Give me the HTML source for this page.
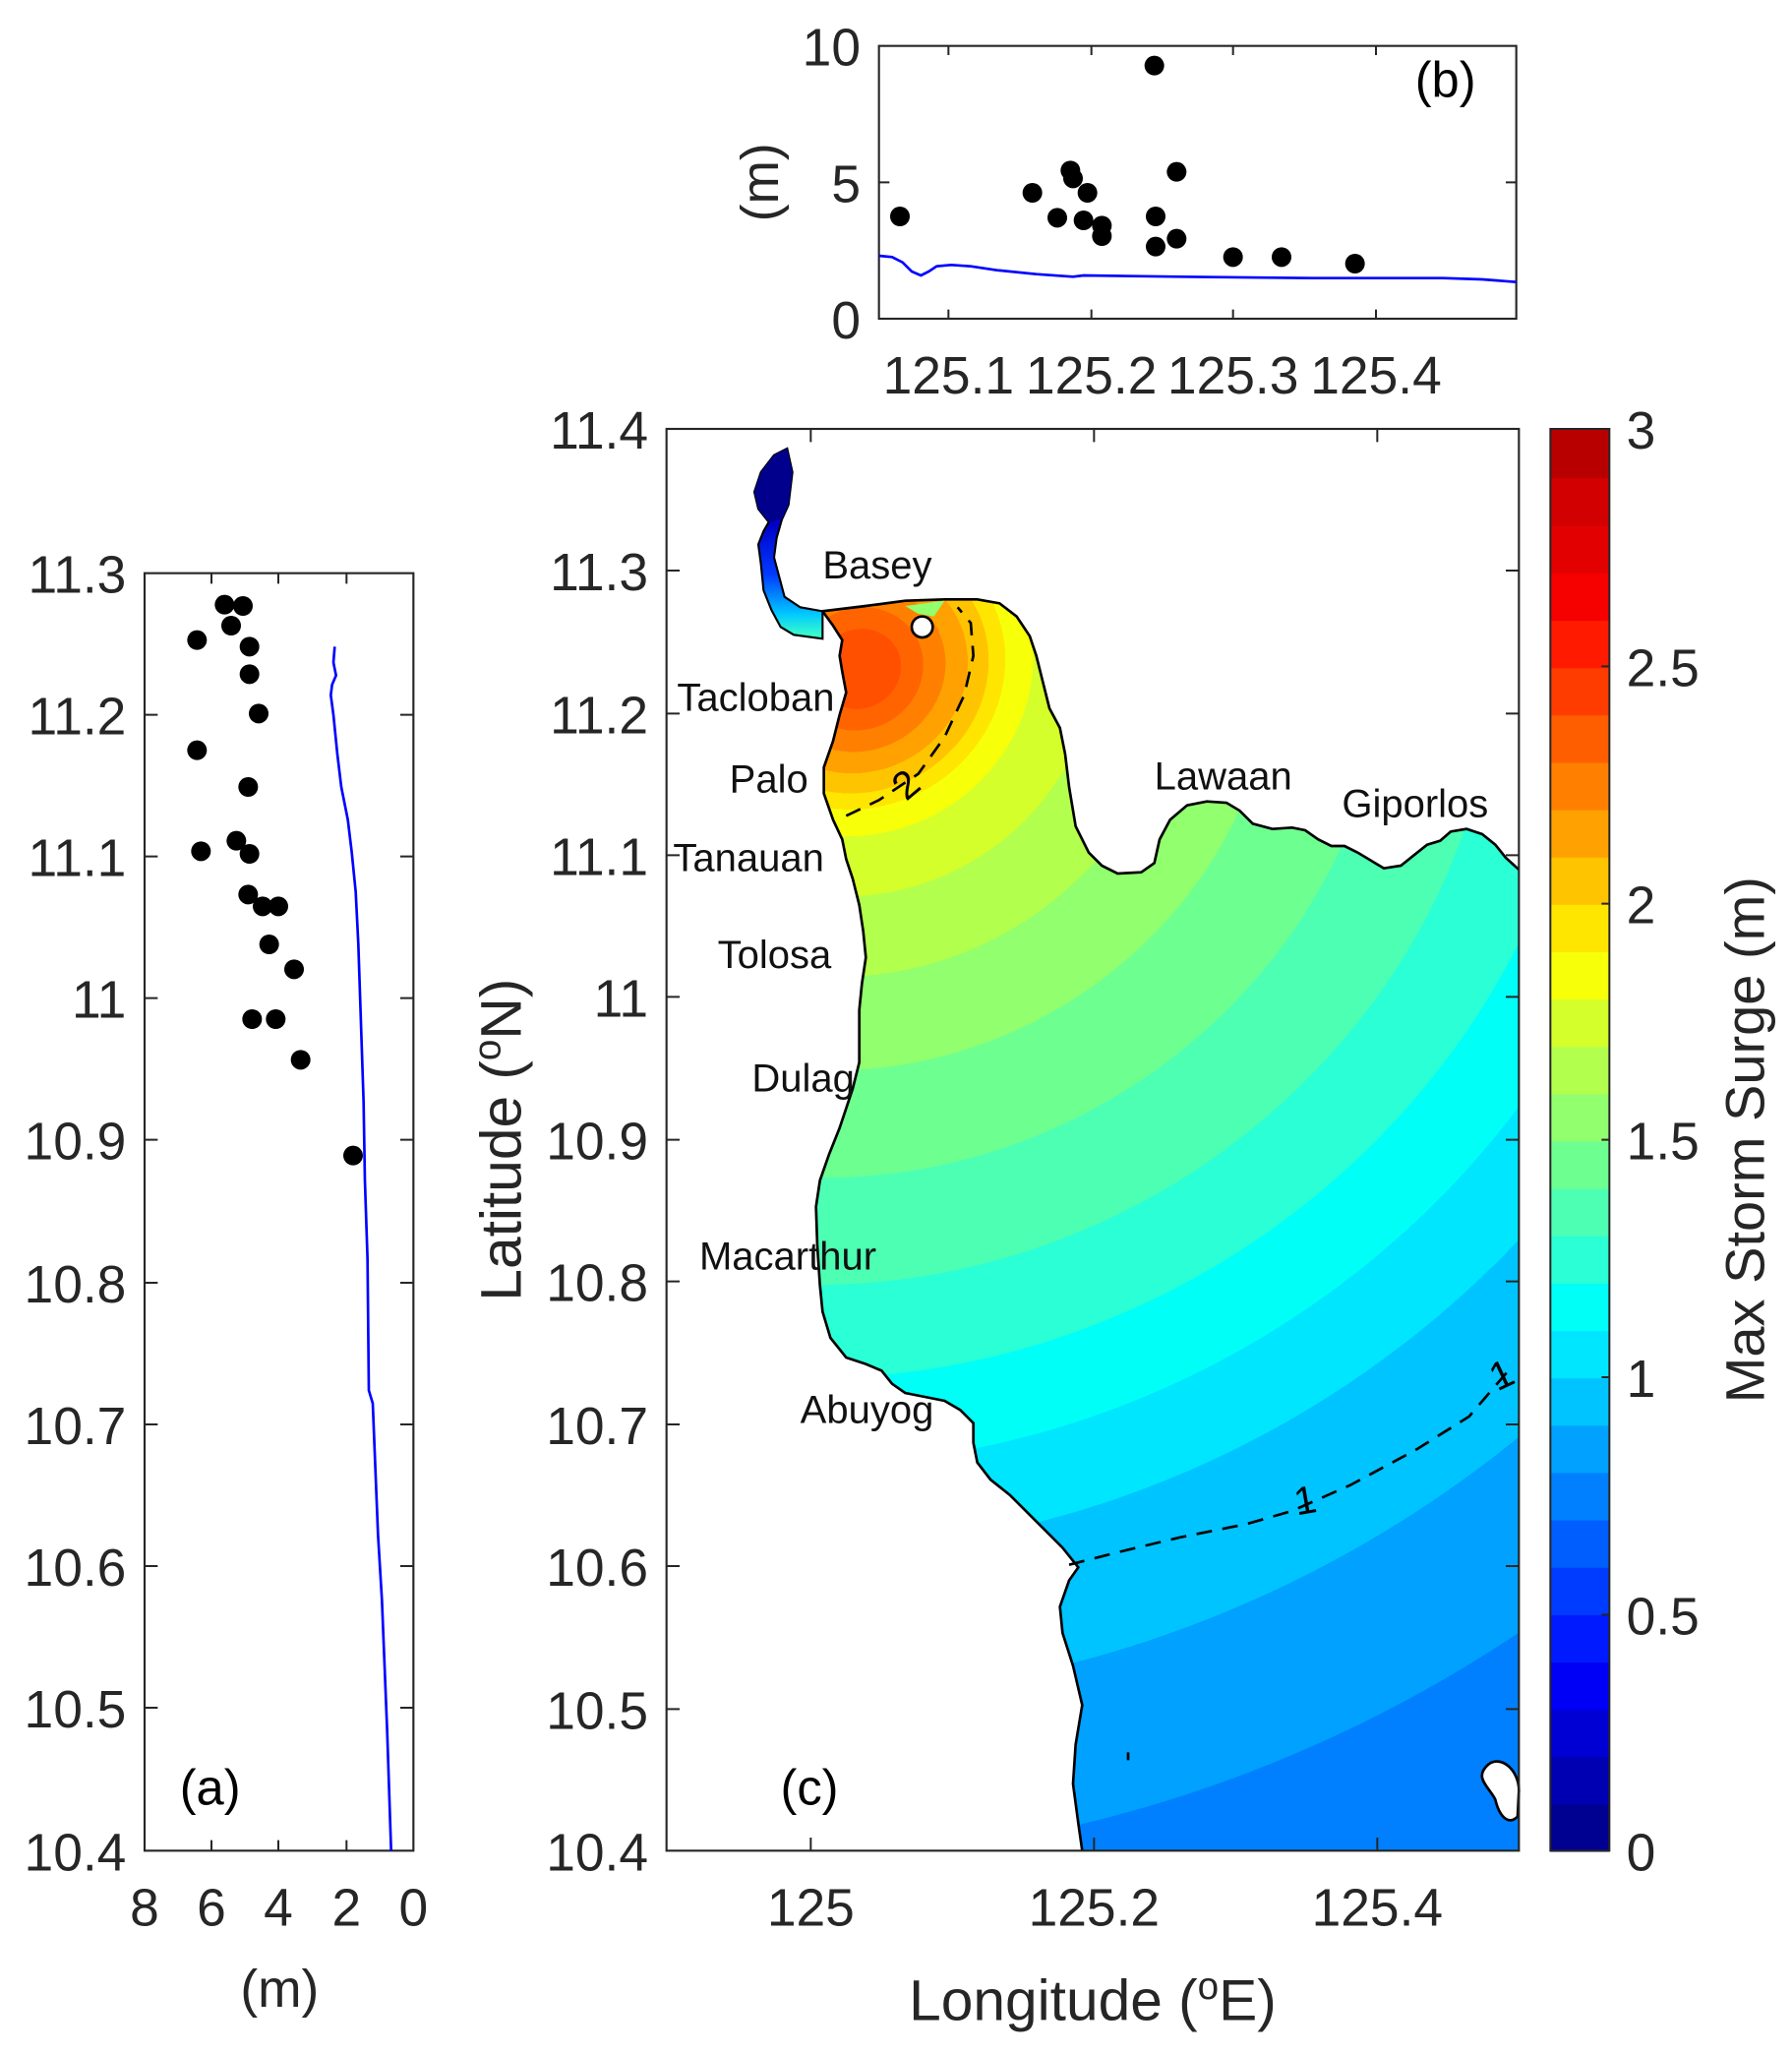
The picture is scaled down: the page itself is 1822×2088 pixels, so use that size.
<!DOCTYPE html>
<html><head><meta charset="utf-8"><style>
html,body{margin:0;padding:0;background:#fff}
svg{display:block}
text{font-family:"Liberation Sans",Arial,sans-serif;fill:#262626}
</style></head><body>
<svg width="1822" height="2088" viewBox="0 0 1366 1566" xmlns="http://www.w3.org/2000/svg">
<defs>
<radialGradient id="rg" gradientUnits="userSpaceOnUse" cx="655" cy="510" r="1000" gradientTransform="translate(655 510) rotate(-30) scale(1.08 1) translate(-655 -510)">
<stop offset="0" stop-color="rgb(255,80,0)"/><stop offset="0.03" stop-color="rgb(255,80,0)"/>
<stop offset="0.03" stop-color="rgb(255,100,0)"/><stop offset="0.046" stop-color="rgb(255,100,0)"/>
<stop offset="0.046" stop-color="rgb(255,128,0)"/><stop offset="0.062" stop-color="rgb(255,128,0)"/>
<stop offset="0.062" stop-color="rgb(255,161,0)"/><stop offset="0.078" stop-color="rgb(255,161,0)"/>
<stop offset="0.078" stop-color="rgb(255,196,0)"/><stop offset="0.093" stop-color="rgb(255,196,0)"/>
<stop offset="0.093" stop-color="rgb(255,230,0)"/><stop offset="0.105" stop-color="rgb(255,230,0)"/>
<stop offset="0.105" stop-color="rgb(247,255,9)"/><stop offset="0.125" stop-color="rgb(247,255,9)"/>
<stop offset="0.125" stop-color="rgb(213,255,43)"/><stop offset="0.17" stop-color="rgb(213,255,43)"/>
<stop offset="0.17" stop-color="rgb(179,255,77)"/><stop offset="0.23" stop-color="rgb(179,255,77)"/>
<stop offset="0.23" stop-color="rgb(145,255,110)"/><stop offset="0.30" stop-color="rgb(145,255,110)"/>
<stop offset="0.30" stop-color="rgb(110,255,145)"/><stop offset="0.38" stop-color="rgb(110,255,145)"/>
<stop offset="0.38" stop-color="rgb(77,255,179)"/><stop offset="0.46" stop-color="rgb(77,255,179)"/>
<stop offset="0.46" stop-color="rgb(43,255,213)"/><stop offset="0.53" stop-color="rgb(43,255,213)"/>
<stop offset="0.53" stop-color="rgb(0,255,247)"/><stop offset="0.595" stop-color="rgb(0,255,247)"/>
<stop offset="0.595" stop-color="rgb(0,230,255)"/><stop offset="0.66" stop-color="rgb(0,230,255)"/>
<stop offset="0.66" stop-color="rgb(0,196,255)"/><stop offset="0.77" stop-color="rgb(0,196,255)"/>
<stop offset="0.77" stop-color="rgb(0,161,255)"/><stop offset="0.89" stop-color="rgb(0,161,255)"/>
<stop offset="0.89" stop-color="rgb(0,128,255)"/><stop offset="1" stop-color="rgb(0,128,255)"/>
</radialGradient>
<linearGradient id="ch" gradientUnits="userSpaceOnUse" x1="0" y1="400" x2="0" y2="485">
<stop offset="0" stop-color="rgb(0,0,200)"/><stop offset="0.45" stop-color="rgb(0,60,255)"/>
<stop offset="0.8" stop-color="rgb(0,200,255)"/><stop offset="1" stop-color="rgb(60,255,200)"/>
</linearGradient>
</defs>

<path d="M825,1411 L822,1390 818,1360 820,1330 825,1300 818,1270 810,1245 808,1225 815,1205 822,1195 810,1180 795,1165 780,1150 770,1140 755,1128 745,1115 742,1100 742,1085 732,1075 720,1068 705,1065 690,1062 680,1055 672,1045 660,1040 645,1035 633,1020 627,1000 625,980 623,950 622,920 625,900 632,880 640,860 645,845 650,830 655,810 655,790 655,770 657,750 660,730 658,710 655,690 650,670 645,655 642,640 635,625 628,605 628,585 635,565 640,545 645,528 642,512 640,500 642,488 635,477 627,466 660,462 690,458 720,457 745,457 762,460 775,470 785,485 790,500 795,520 800,540 808,555 812,575 815,600 820,630 830,650 840,660 852,666 870,665 880,658 884,640 892,625 905,614 920,611 935,612 945,618 955,628 970,632 985,631 995,633 1005,640 1015,645 1025,645 1035,650 1045,656 1055,662 1068,660 1078,652 1088,644 1098,641 1106,634 1118,632 1130,636 1140,644 1148,654 1158,663 L1158,1411 Z" fill="url(#rg)" stroke="none"/>
<polyline points="825,1411 822,1390 818,1360 820,1330 825,1300 818,1270 810,1245 808,1225 815,1205 822,1195 810,1180 795,1165 780,1150 770,1140 755,1128 745,1115 742,1100 742,1085 732,1075 720,1068 705,1065 690,1062 680,1055 672,1045 660,1040 645,1035 633,1020 627,1000 625,980 623,950 622,920 625,900 632,880 640,860 645,845 650,830 655,810 655,790 655,770 657,750 660,730 658,710 655,690 650,670 645,655 642,640 635,625 628,605 628,585 635,565 640,545 645,528 642,512 640,500 642,488 635,477 627,466 660,462 690,458 720,457 745,457 762,460 775,470 785,485 790,500 795,520 800,540 808,555 812,575 815,600 820,630 830,650 840,660 852,666 870,665 880,658 884,640 892,625 905,614 920,611 935,612 945,618 955,628 970,632 985,631 995,633 1005,640 1015,645 1025,645 1035,650 1045,656 1055,662 1068,660 1078,652 1088,644 1098,641 1106,634 1118,632 1130,636 1140,644 1148,654 1158,663" fill="none" stroke="#000" stroke-width="2"/>
<path d="M627,487 L605,484 595,478 588,465 582,450 580,430 578,415 582,405 586,398 578,388 575,375 580,360 590,347 600,342 604,360 601,385 596,396 592,410 590,425 594,440 598,455 610,463 627,466 Z" fill="url(#ch)" stroke="#000" stroke-width="1.6"/>
<path d="M586,398 L578,388 575,375 580,360 590,347 600,342 604,360 601,385 596,396 Z" fill="rgb(0,0,140)"/>
<path d="M690,462 L720,458 712,470 700,468 Z" fill="rgb(145,255,110)"/>
<circle cx="703" cy="478" r="8" fill="#fff" stroke="#000" stroke-width="2"/>
<path d="M1135,1345 C1145,1338 1158,1350 1158,1365 L1157,1385 C1150,1392 1143,1385 1140,1372 C1135,1362 1123,1355 1135,1345 Z" fill="#fff" stroke="#000" stroke-width="2"/>
<rect x="859" y="1336" width="2" height="6" fill="#000"/>
<polyline points="645,622 670,610 700,590 720,562 735,530 742,500 740,475 730,463" fill="none" stroke="#000" stroke-width="2" stroke-dasharray="12,8"/>
<text x="680" y="608" font-size="30" transform="rotate(-40 690 595)" style="fill:#000">2</text>
<polyline points="815,1193 850,1184 900,1172 950,1162 985,1152 1030,1132 1080,1105 1120,1080 1150,1045" fill="none" stroke="#000" stroke-width="2" stroke-dasharray="12,8"/>
<text x="986" y="1154" font-size="30" transform="rotate(-10 995 1140)" style="fill:#000">1</text>
<text x="1135" y="1058" font-size="30" transform="rotate(-25 1145 1045)" style="fill:#000">1</text>

<g font-size="30">
<text x="627" y="441" style="fill:#111">Basey</text>
<text x="516" y="542" style="fill:#111">Tacloban</text>
<text x="556" y="604" style="fill:#111">Palo</text>
<text x="513" y="664" style="fill:#111">Tanauan</text>
<text x="547" y="738" style="fill:#111">Tolosa</text>
<text x="573" y="832" style="fill:#111">Dulag</text>
<text x="533" y="968" style="fill:#111">Macarthur</text>
<text x="610" y="1085" style="fill:#111">Abuyog</text>
<text x="880" y="602" style="fill:#111">Lawaan</text>
<text x="1023" y="623" style="fill:#111">Giporlos</text>
</g>

<rect x="508" y="327" width="650" height="1084" fill="none" stroke="#262626" stroke-width="1.6"/>
<g stroke="#262626" stroke-width="1.5">
<path d="M618,1411v-10M834,1411v-10M1050,1411v-10M618,327v10M834,327v10M1050,327v10"/>
<path d="M508,435h10M508,544h10M508,652h10M508,760h10M508,869h10M508,977h10M508,1086h10M508,1194h10M508,1303h10"/>
<path d="M1158,435h-10M1158,544h-10M1158,652h-10M1158,760h-10M1158,869h-10M1158,977h-10M1158,1086h-10M1158,1194h-10M1158,1303h-10"/>
</g>
<g font-size="40" text-anchor="end">
<text x="494" y="342">11.4</text><text x="494" y="450">11.3</text><text x="494" y="559">11.2</text>
<text x="494" y="667">11.1</text><text x="494" y="775">11</text><text x="494" y="884">10.9</text>
<text x="494" y="992">10.8</text><text x="494" y="1101">10.7</text><text x="494" y="1209">10.6</text>
<text x="494" y="1318">10.5</text><text x="494" y="1426">10.4</text>
</g>
<g font-size="40" text-anchor="middle">
<text x="618" y="1468">125</text><text x="834" y="1468">125.2</text><text x="1050" y="1468">125.4</text>
</g>
<g font-size="44" text-anchor="middle">
<text x="833" y="1540">Longitude (<tspan font-size="29" dy="-16">o</tspan><tspan dy="16">E)</tspan></text>
<text transform="translate(397 869) rotate(-90)">Latitude (<tspan font-size="29" dy="-16">o</tspan><tspan dy="16">N)</tspan></text>
</g>
<text x="617" y="1376" font-size="38" text-anchor="middle" style="fill:#000">(c)</text>

<g>
<rect x="1182" y="1374.9" width="45" height="37" fill="rgb(0,0,145)"/>
<rect x="1182" y="1338.8" width="45" height="37" fill="rgb(0,0,179)"/>
<rect x="1182" y="1302.7" width="45" height="37" fill="rgb(0,0,213)"/>
<rect x="1182" y="1266.6" width="45" height="37" fill="rgb(0,0,247)"/>
<rect x="1182" y="1230.5" width="45" height="37" fill="rgb(0,26,255)"/>
<rect x="1182" y="1194.4" width="45" height="37" fill="rgb(0,60,255)"/>
<rect x="1182" y="1158.3" width="45" height="37" fill="rgb(0,94,255)"/>
<rect x="1182" y="1122.2" width="45" height="37" fill="rgb(0,128,255)"/>
<rect x="1182" y="1086.1" width="45" height="37" fill="rgb(0,161,255)"/>
<rect x="1182" y="1050" width="45" height="37" fill="rgb(0,196,255)"/>
<rect x="1182" y="1013.9" width="45" height="37" fill="rgb(0,230,255)"/>
<rect x="1182" y="977.8" width="45" height="37" fill="rgb(0,255,247)"/>
<rect x="1182" y="941.7" width="45" height="37" fill="rgb(43,255,213)"/>
<rect x="1182" y="905.6" width="45" height="37" fill="rgb(77,255,179)"/>
<rect x="1182" y="869.5" width="45" height="37" fill="rgb(110,255,145)"/>
<rect x="1182" y="833.4" width="45" height="37" fill="rgb(145,255,110)"/>
<rect x="1182" y="797.3" width="45" height="37" fill="rgb(179,255,77)"/>
<rect x="1182" y="761.2" width="45" height="37" fill="rgb(213,255,43)"/>
<rect x="1182" y="725.1" width="45" height="37" fill="rgb(247,255,9)"/>
<rect x="1182" y="689" width="45" height="37" fill="rgb(255,230,0)"/>
<rect x="1182" y="652.9" width="45" height="37" fill="rgb(255,196,0)"/>
<rect x="1182" y="616.8" width="45" height="37" fill="rgb(255,161,0)"/>
<rect x="1182" y="580.7" width="45" height="37" fill="rgb(255,128,0)"/>
<rect x="1182" y="544.6" width="45" height="37" fill="rgb(255,94,0)"/>
<rect x="1182" y="508.5" width="45" height="37" fill="rgb(255,60,0)"/>
<rect x="1182" y="472.4" width="45" height="37" fill="rgb(255,26,0)"/>
<rect x="1182" y="436.3" width="45" height="37" fill="rgb(247,0,0)"/>
<rect x="1182" y="400.2" width="45" height="37" fill="rgb(226,0,0)"/>
<rect x="1182" y="364.1" width="45" height="37" fill="rgb(210,0,0)"/>
<rect x="1182" y="327" width="45" height="37.5" fill="rgb(185,0,0)"/>
<rect x="1182" y="327" width="45" height="1084" fill="none" stroke="#262626" stroke-width="1.5"/>
<path d="M1227,1231h-6M1227,1050h-6M1227,869h-6M1227,689h-6M1227,508h-6" stroke="#262626" stroke-width="1.5"/>
</g>
<g font-size="40">
<text x="1240" y="342">3</text><text x="1240" y="523">2.5</text><text x="1240" y="704">2</text>
<text x="1240" y="884">1.5</text><text x="1240" y="1065">1</text><text x="1240" y="1246">0.5</text>
<text x="1240" y="1426">0</text>
</g>
<text transform="translate(1345 869) rotate(-90)" text-anchor="middle" font-size="42">Max Storm Surge (m)</text>

<rect x="110" y="437" width="205" height="974" fill="none" stroke="#262626" stroke-width="1.6"/>
<g stroke="#262626" stroke-width="1.5">
<path d="M161,437v8M212,437v8M264,437v8M161,1411v-8M212,1411v-8M264,1411v-8"/>
<path d="M110,545h10M110,653h10M110,761h10M110,869h10M110,978h10M110,1086h10M110,1194h10M110,1302h10"/>
<path d="M315,545h-10M315,653h-10M315,761h-10M315,869h-10M315,978h-10M315,1086h-10M315,1194h-10M315,1302h-10"/>
</g>
<polyline points="255,493 254,505 256,515 253,522 252,530 254,545 257,575 260,600 265,625 268,650 271,680 273,720 275,780 277,840 278,900 280,960 281,1060 284,1070 286,1120 288,1170 291,1220 293,1270 295,1320 298,1411" fill="none" stroke="#0000ff" stroke-width="2"/>
<g fill="#000">
<circle cx="171" cy="461" r="7.5"/><circle cx="185" cy="462" r="7.5"/><circle cx="150" cy="488" r="7.5"/><circle cx="176" cy="477" r="7.5"/><circle cx="190" cy="493" r="7.5"/><circle cx="190" cy="514" r="7.5"/><circle cx="197" cy="544" r="7.5"/><circle cx="150" cy="572" r="7.5"/><circle cx="189" cy="600" r="7.5"/><circle cx="180" cy="641" r="7.5"/><circle cx="153" cy="649" r="7.5"/><circle cx="190" cy="651" r="7.5"/><circle cx="189" cy="682" r="7.5"/><circle cx="200" cy="691" r="7.5"/><circle cx="212" cy="691" r="7.5"/><circle cx="205" cy="720" r="7.5"/><circle cx="224" cy="739" r="7.5"/><circle cx="192" cy="777" r="7.5"/><circle cx="210" cy="777" r="7.5"/><circle cx="229" cy="808" r="7.5"/><circle cx="269" cy="881" r="7.5"/>
</g>
<g font-size="40" text-anchor="end">
<text x="96" y="452">11.3</text><text x="96" y="560">11.2</text><text x="96" y="668">11.1</text>
<text x="96" y="776">11</text><text x="96" y="884">10.9</text><text x="96" y="993">10.8</text>
<text x="96" y="1101">10.7</text><text x="96" y="1209">10.6</text><text x="96" y="1317">10.5</text>
<text x="96" y="1426">10.4</text>
</g>
<g font-size="40" text-anchor="middle">
<text x="110" y="1468">8</text><text x="161" y="1468">6</text><text x="212" y="1468">4</text>
<text x="264" y="1468">2</text><text x="315" y="1468">0</text>
<text x="213" y="1530">(m)</text>
</g>
<text x="160" y="1376" font-size="38" text-anchor="middle" style="fill:#000">(a)</text>

<rect x="670" y="35" width="486" height="208" fill="none" stroke="#262626" stroke-width="1.6"/>
<g stroke="#262626" stroke-width="1.5">
<path d="M723,243v-7M832,243v-7M940,243v-7M1049,243v-7M723,35v7M832,35v7M940,35v7M1049,35v7"/>
<path d="M670,139h8M1156,139h-8"/>
</g>
<polyline points="670,195 680,196 688,200 695,207 702,210 708,207 714,203 725,202 740,203 760,206 790,209 818,211 826,210 900,211 1000,212 1100,212 1130,213 1156,215" fill="none" stroke="#0000ff" stroke-width="2"/>
<g fill="#000">
<circle cx="686" cy="165" r="7.5"/><circle cx="787" cy="147" r="7.5"/><circle cx="806" cy="166" r="7.5"/><circle cx="816" cy="130" r="7.5"/><circle cx="818" cy="136" r="7.5"/><circle cx="826" cy="168" r="7.5"/><circle cx="829" cy="147" r="7.5"/><circle cx="840" cy="180" r="7.5"/><circle cx="840" cy="172" r="7.5"/><circle cx="880" cy="50" r="7.5"/><circle cx="881" cy="165" r="7.5"/><circle cx="881" cy="188" r="7.5"/><circle cx="897" cy="131" r="7.5"/><circle cx="897" cy="182" r="7.5"/><circle cx="940" cy="196" r="7.5"/><circle cx="977" cy="196" r="7.5"/><circle cx="1033" cy="201" r="7.5"/>
</g>
<g font-size="40" text-anchor="end">
<text x="656" y="50">10</text><text x="656" y="154">5</text><text x="656" y="258">0</text>
</g>
<g font-size="40" text-anchor="middle">
<text x="723" y="300">125.1</text><text x="832" y="300">125.2</text><text x="940" y="300">125.3</text><text x="1049" y="300">125.4</text>
<text transform="translate(593 139) rotate(-90)">(m)</text>
</g>
<text x="1102" y="74" font-size="38" text-anchor="middle" style="fill:#000">(b)</text>
</svg>
</body></html>
